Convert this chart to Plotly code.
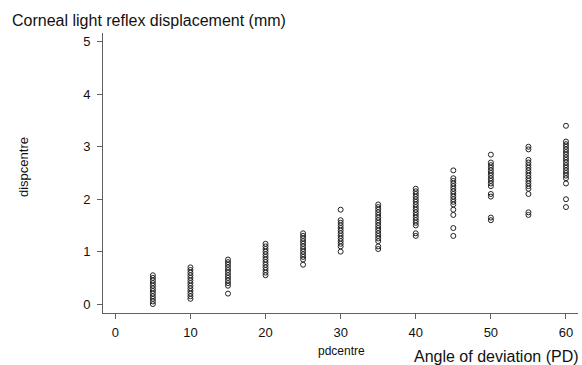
import plotly.graph_objects as go

# Angle of deviation (PD) groups
pd_groups = [5, 10, 15, 20, 25, 30, 35, 40, 45, 50, 55, 60]

# Corneal light reflex displacement values (mm) per group
disp_5 = [0.0, 0.05, 0.1, 0.15, 0.2, 0.25, 0.3, 0.35, 0.4, 0.45, 0.5, 0.55]
disp_10 = [0.1, 0.15, 0.2, 0.25, 0.3, 0.35, 0.4, 0.45, 0.5, 0.55, 0.6, 0.65, 0.7]
disp_15 = [0.2, 0.35, 0.4, 0.45, 0.5, 0.55, 0.6, 0.65, 0.7, 0.75, 0.8, 0.85]
disp_20 = [0.55, 0.6, 0.65, 0.7, 0.75, 0.8, 0.85, 0.9, 0.95, 1.0, 1.05, 1.1, 1.15]
disp_25 = [0.75, 0.85, 0.9, 0.95, 1.0, 1.05, 1.1, 1.15, 1.2, 1.25, 1.3, 1.35]
disp_30 = [1.0, 1.1, 1.15, 1.2, 1.25, 1.3, 1.35, 1.4, 1.45, 1.5, 1.55, 1.6, 1.8]
disp_35 = [1.05, 1.1, 1.2, 1.25, 1.3, 1.35, 1.4, 1.45, 1.5, 1.55, 1.6, 1.65, 1.7,
           1.75, 1.8, 1.85, 1.9]
disp_40 = [1.3, 1.35, 1.5, 1.55, 1.6, 1.65, 1.7, 1.75, 1.8, 1.85, 1.9, 1.95, 2.0,
           2.05, 2.1, 2.15, 2.2]
disp_45 = [1.3, 1.45, 1.7, 1.8, 1.9, 1.95, 2.0, 2.05, 2.1, 2.15, 2.2, 2.25, 2.3,
           2.35, 2.4, 2.55]
disp_50 = [1.6, 1.65, 2.05, 2.1, 2.25, 2.3, 2.35, 2.4, 2.45, 2.5, 2.55, 2.6, 2.65,
           2.7, 2.85]
disp_55 = [1.7, 1.75, 2.1, 2.2, 2.25, 2.3, 2.35, 2.4, 2.45, 2.5, 2.55, 2.6, 2.65,
           2.7, 2.75, 2.95, 3.0]
disp_60 = [1.85, 2.0, 2.3, 2.4, 2.45, 2.5, 2.55, 2.6, 2.65, 2.7, 2.75, 2.8, 2.85,
           2.9, 2.95, 3.0, 3.05, 3.1, 3.4]

groups = [disp_5, disp_10, disp_15, disp_20, disp_25, disp_30, disp_35, disp_40,
          disp_45, disp_50, disp_55, disp_60]

x_ticks = [0, 10, 20, 30, 40, 50, 60]
y_ticks = [0, 1, 2, 3, 4, 5]

xs, ys = [], []
for g, vals in zip(pd_groups, groups):
    xs += [g] * len(vals)
    ys += vals

W, H = 582, 365
L, R, T, B = 103, 4, 33, 52
pw, ph = W - L - R, H - T - B


def px_x(p):
    return (p - L) / pw


def px_y(p):
    return (H - B - p) / ph


FONT = "Liberation Sans, Arial, sans-serif"
AX = "#606060"

fig = go.Figure()
fig.add_trace(go.Scatter(
    x=xs, y=ys, mode="markers",
    marker=dict(symbol="circle-open", size=5, color="#222222",
                line=dict(width=1, color="#222222")),
    hoverinfo="skip", showlegend=False,
))

fig.update_layout(
    width=W, height=H,
    margin=dict(l=L, r=R, t=T, b=B, pad=0),
    paper_bgcolor="white", plot_bgcolor="white",
    font=dict(family=FONT, size=13, color="#111111"),
    xaxis=dict(range=[-1.64, 61.6], tickvals=x_ticks, showgrid=False,
               zeroline=False, showline=True, linecolor=AX, linewidth=1,
               ticks="outside", ticklen=5, tickcolor=AX, tickwidth=1,
               ticklabelstandoff=2,
               tickfont=dict(size=13, family=FONT, color="#111111")),
    yaxis=dict(range=[-0.17, 5.17], tickvals=y_ticks, showgrid=False,
               zeroline=False, showline=True, linecolor=AX, linewidth=1,
               ticks="outside", ticklen=5, tickcolor=AX, tickwidth=1,
               ticklabelstandoff=4,
               tickfont=dict(size=13, family=FONT, color="#111111")),
    annotations=[
        dict(text="Corneal light reflex displacement (mm)", xref="paper", yref="paper",
             x=px_x(10), y=px_y(21), xanchor="left", yanchor="middle",
             showarrow=False, font=dict(size=16, family=FONT, color="#111111")),
        dict(text="Angle of deviation (PD)", xref="paper", yref="paper",
             x=px_x(581), y=px_y(356), xanchor="right", yanchor="middle",
             showarrow=False, font=dict(size=16, family=FONT, color="#111111")),
        dict(text="pdcentre", xref="paper", yref="paper",
             x=px_x(341), y=px_y(351), xanchor="center", yanchor="middle",
             showarrow=False, font=dict(size=12, family=FONT, color="#111111")),
        dict(text="dispcentre", xref="paper", yref="paper", textangle=-90,
             x=px_x(23), y=px_y(167), xanchor="center", yanchor="middle",
             showarrow=False, font=dict(size=13, family=FONT, color="#111111")),
    ],
)

fig.write_html("out.html",
               config={"displayModeBar": False},
               post_script="document.body.style.margin='0px';"
                           "document.body.style.overflow='hidden';")
